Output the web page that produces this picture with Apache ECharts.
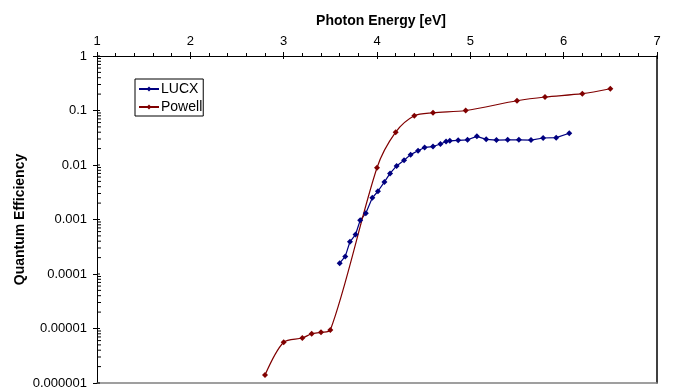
<!DOCTYPE html>
<html>
<head>
<meta charset="utf-8">
<script src="https://cdn.jsdelivr.net/npm/echarts@6/dist/echarts.min.js"></script>
<style>html,body{margin:0;padding:0;background:#fff}#c{width:673px;height:390px}</style>
</head>
<body>
<div id="c"></div>
<script>
var lucxX = [3.60, 3.66, 3.71, 3.77, 3.82, 3.88, 3.95, 4.01, 4.08, 4.14, 4.21, 4.29, 4.36, 4.44, 4.51, 4.60, 4.68, 4.74, 4.78, 4.87, 4.97, 5.07, 5.17, 5.28, 5.40, 5.52, 5.65, 5.78, 5.92, 6.06];
var lucxY = [1.58e-4, 2.1e-4, 3.9e-4, 5.3e-4, 9.7e-4, 1.3e-3, 2.5e-3, 3.3e-3, 4.9e-3, 7.0e-3, 9.6e-3, 0.0122, 0.0155, 0.0183, 0.021, 0.0218, 0.0243, 0.027, 0.0278, 0.0284, 0.029, 0.0336, 0.0296, 0.0287, 0.029, 0.029, 0.0287, 0.0313, 0.0317, 0.0382];
var powellX = [2.8, 3.0, 3.2, 3.3, 3.4, 3.5, 4.0, 4.2, 4.4, 4.6, 4.95, 5.5, 5.8, 6.2, 6.5];
var powellY = [1.4e-6, 5.6e-6, 6.7e-6, 8.0e-6, 8.5e-6, 9.4e-6, 0.0089, 0.040, 0.080, 0.091, 0.10, 0.151, 0.177, 0.204, 0.251];
var yTickValues = [0.000001, 0.00001, 0.0001, 0.001, 0.01, 0.1, 1];

function pairs(xs, ys) { return xs.map(function (x, i) { return [x, ys[i]]; }); }

// log minor tick values (2..9 in each decade) plus decade values for inner part of major ticks
var minorVals = [];
for (var k = -6; k < 0; k++) {
  for (var m = 1; m <= 9; m++) minorVals.push([m, m * Math.pow(10, k)]);
}
minorVals.push([1, 1]);

var FONT = 'Liberation Sans, Arial, sans-serif';
var chart = echarts.init(document.getElementById('c'), null, {renderer: 'canvas'});
chart.setOption({
  animation: false,
  backgroundColor: '#fff',
  title: {
    text: 'Photon Energy [eV]',
    left: 376, top: 9, textAlign: 'center',
    textStyle: {fontFamily: FONT, fontSize: 14, fontWeight: 'bold', color: '#000'}
  },
  grid: {left: 97, top: 56, right: 16, bottom: 7, containLabel: false, outerBoundsMode: 'none'},
  legend: {
    orient: 'vertical', left: 135, top: 79,
    data: ['LUCX', 'Powell'],
    borderColor: '#000', borderWidth: 1, borderRadius: 0,
    padding: [3, 1, 2, 3], itemGap: 4, itemWidth: 20, itemHeight: 6,
    textStyle: {fontFamily: FONT, fontSize: 14, color: '#000', padding: [0, 0, 0, -3]}
  },
  xAxis: [{
    type: 'value', position: 'top', min: 1, max: 7, interval: 1,
    axisLine: {show: true, lineStyle: {color: '#000', width: 1}},
    axisTick: {show: true, inside: false, length: 4, lineStyle: {color: '#000'}},
    minorTick: {show: true, splitNumber: 5, length: 3, lineStyle: {color: '#000'}},
    splitLine: {show: false}, minorSplitLine: {show: false},
    axisLabel: {fontFamily: FONT, fontSize: 13, color: '#000', margin: 8}
  }, {
    type: 'value', position: 'top', min: 1, max: 7, interval: 1,
    axisLine: {show: false},
    axisTick: {show: true, inside: true, length: 3, lineStyle: {color: '#000'}},
    splitLine: {show: false}, axisLabel: {show: false}
  }, {
    type: 'value', position: 'bottom', min: 1, max: 7,
    axisLine: {show: true, onZero: false, lineStyle: {color: '#808080', width: 1.5}},
    axisTick: {show: false}, splitLine: {show: false}, axisLabel: {show: false}
  }],
  yAxis: [{
    type: 'log', logBase: 10, min: 0.000001, max: 1,
    name: 'Quantum Efficiency', nameLocation: 'middle', nameGap: 70, nameRotate: 90,
    nameMoveOverlap: false,
    nameTextStyle: {fontFamily: FONT, fontSize: 14, fontWeight: 'bold', color: '#000'},
    axisLine: {show: true, lineStyle: {color: '#000', width: 1}},
    axisTick: {show: true, inside: false, length: 4, lineStyle: {color: '#000'}},
    splitLine: {show: false},
    axisLabel: {
      fontFamily: FONT, fontSize: 13, color: '#000', margin: 10,
      formatter: function (v) {
        var d = Math.max(0, -Math.round(Math.log10(v)));
        return v.toFixed(d);
      }
    }
  }, {
    type: 'log', logBase: 10, min: 0.000001, max: 1, position: 'right',
    axisLine: {show: true, lineStyle: {color: '#000', width: 1.5}},
    axisTick: {show: false}, splitLine: {show: false}, axisLabel: {show: false}
  }],
  series: [{
    name: 'LUCX', type: 'line', xAxisIndex: 0, yAxisIndex: 0,
    data: pairs(lucxX, lucxY),
    color: '#000080',
    lineStyle: {color: '#000080', width: 1.2},
    itemStyle: {color: '#000080'},
    symbol: 'diamond', symbolSize: 6, showSymbol: true, smooth: false
  }, {
    name: 'Powell', type: 'line', xAxisIndex: 0, yAxisIndex: 0,
    data: pairs(powellX, powellY),
    color: '#800000',
    lineStyle: {color: '#800000', width: 1.2},
    itemStyle: {color: '#800000'},
    symbol: 'diamond', symbolSize: 6, showSymbol: true, smooth: 0.3
  }, {
    name: 'minorTicks', type: 'custom', xAxisIndex: 0, yAxisIndex: 0, silent: true,
    clip: false,
    data: minorVals,
    renderItem: function (params, api) {
      var p = api.coord([1, api.value(1)]);
      var len = api.value(0) === 1 ? 3 : 4;
      return {
        type: 'line',
        shape: {x1: p[0], y1: p[1], x2: p[0] + len, y2: p[1]},
        style: {stroke: '#000', lineWidth: 1}
      };
    }
  }]
});
</script>
</body>
</html>
